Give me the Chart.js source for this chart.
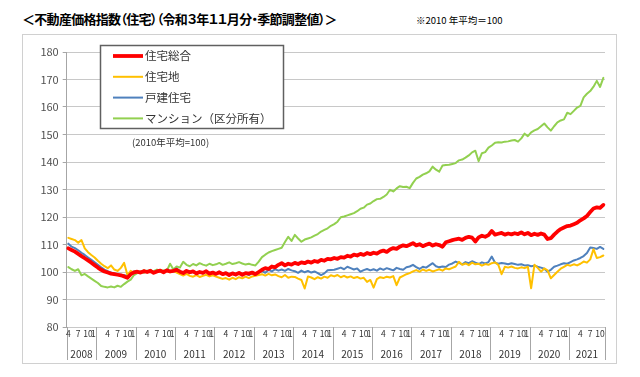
<!DOCTYPE html>
<html lang="ja">
<head>
<meta charset="utf-8">
<title>不動産価格指数（住宅）</title>
<script src="https://cdn.jsdelivr.net/npm/chart.js@4.4.1/dist/chart.umd.min.js"></script>
<style>
  html, body { margin: 0; padding: 0; background: #fff; }
  body { width: 640px; height: 377px; position: relative; overflow: hidden;
         font-family: "Noto Sans CJK JP", "Noto Sans", sans-serif; }
  #title { position: absolute; left: 22px; top: 9px; font-size: 13px; font-weight: bold; color: #000;
           font-feature-settings: "palt"; white-space: nowrap; letter-spacing: -0.7px; }
  #note { position: absolute; left: 416px; top: 13px; font-size: 9.5px; color: #000; white-space: nowrap; }
  #wrap { position: absolute; left: 0; top: 0; width: 640px; height: 377px; }
</style>
</head>
<body>
<div id="title">＜不動産価格指数（住宅）（令和３年１１月分・季節調整値）＞</div>
<div id="note">※2010 年平均＝100</div>
<div id="wrap"><canvas id="chart" width="640" height="377"></canvas></div>
<script>
// data: April 2008 – November 2021, monthly
const startYear = 2008, startMonth = 4, endYear = 2021, endMonth = 11;
const monthTicks = [1, 4, 7, 10];
const yTicks = [80, 90, 100, 110, 120, 130, 140, 150, 160, 170, 180];

const seriesNames = ['住宅総合', '住宅地', '戸建住宅', 'マンション（区分所有）'];
const seriesColors = ['#ff0000', '#ffc000', '#4f81bd', '#92d050'];
const seriesWidths = [3.8, 2, 2, 2];

const sogo = [
  108.6, 108.0, 107.4, 106.6, 105.8, 105.0, 104.2, 103.4, 102.5,
  101.6, 100.8, 100.2, 99.8, 99.4, 99.2, 99.0, 98.8, 98.4, 97.9, 99.2, 99.9,
  100.1, 99.8, 100.3, 100.0, 100.4, 99.7, 100.2, 100.5, 99.9, 100.6, 100.2, 100.4,
  100.8, 100.1, 99.6, 100.4, 99.9, 100.2, 99.5, 100.0, 99.7, 100.3, 99.4, 99.8,
  99.3, 99.9, 99.2, 99.6, 98.9, 99.5, 99.1, 99.7, 99.0, 99.6, 99.4, 99.8,
  99.2, 100.0, 100.8, 101.4, 101.1, 102.0, 101.7, 102.6, 103.2, 102.4, 103.0, 102.7,
  103.3, 102.9, 103.5, 103.2, 103.8, 103.4, 104.0, 103.7, 104.4, 104.1, 104.8, 104.6,
  105.1, 104.8, 105.4, 105.2, 105.9, 105.6, 106.3, 106.0, 106.6, 106.2, 106.9, 106.5,
  107.0, 106.7, 107.4, 107.8, 107.3, 108.2, 108.7, 108.4, 109.2, 109.7, 109.4, 109.9,
  110.5, 109.7, 110.1, 109.4, 109.9, 110.3, 109.6, 110.1, 109.8, 109.2, 110.8, 111.2,
  111.6, 111.9, 112.1, 111.7, 112.4, 112.8, 112.5, 111.1, 112.6, 113.2, 112.8, 113.4,
  114.9, 113.6, 113.9, 114.2, 113.6, 114.0, 113.7, 114.1, 113.8, 114.4, 113.7, 114.2,
  113.4, 113.9, 113.5, 114.0, 113.6, 112.0, 112.3, 113.6, 114.7, 115.6, 116.2, 116.7,
  116.9, 117.4, 117.9, 118.8, 119.5, 120.4, 121.8, 123.1, 123.5, 123.3, 124.4
];
const takuchi = [
  112.4, 112.0, 111.6, 110.6, 111.6, 108.6, 107.2, 106.2, 105.3,
  104.1, 103.0, 102.1, 101.4, 102.4, 100.9, 100.4, 101.5, 103.3, 98.9, 100.4, 99.7,
  100.3, 99.8, 100.6, 100.1, 100.7, 99.6, 100.2, 100.8, 100.1, 100.4, 99.9, 100.5,
  99.8, 99.2, 98.7, 99.3, 98.6, 98.3, 98.9, 98.2, 98.6, 99.0, 98.4, 98.8,
  98.3, 97.9, 97.5, 97.8, 97.2, 97.9, 97.4, 98.1, 97.7, 98.3, 97.8, 98.4,
  98.6, 98.9, 99.2, 98.7, 99.3, 98.8, 99.1, 98.5, 98.1, 98.9, 97.9, 98.3,
  98.2, 97.6, 97.1, 94.0, 98.4, 98.0, 97.4, 98.1, 97.6, 98.3, 97.9, 98.8,
  98.4, 98.9, 98.1, 98.6, 98.0, 98.4, 97.8, 98.2, 97.6, 97.9, 96.4, 97.1,
  94.3, 97.4, 98.1, 97.8, 98.3, 98.0, 98.5, 95.2, 98.0, 98.6, 99.2, 99.6,
  100.2, 100.7, 100.1, 100.9, 100.4, 100.8, 100.2, 100.6, 101.0, 100.5, 101.3, 101.0,
  101.5, 102.0, 103.7, 102.6, 103.1, 102.5, 103.4, 102.8, 103.0, 102.3, 102.9, 102.6,
  103.2, 103.5, 102.6, 99.2, 101.9, 101.6, 102.0, 101.5, 101.3, 101.7, 101.4, 101.9,
  94.1, 102.6, 101.5, 100.1, 101.3, 100.6, 97.7, 98.9, 100.1, 101.2, 101.9, 102.6,
  102.3, 102.8, 102.4, 103.0, 103.8, 103.4, 104.6, 108.3, 105.1, 105.4, 106.0
];
const kodate = [
  110.3, 109.2, 108.7, 107.9, 107.0, 106.2, 105.3, 104.4, 103.5,
  102.6, 101.7, 100.9, 100.3, 99.8, 99.5, 99.2, 99.0, 98.8, 98.6, 99.6, 100.2,
  100.4, 99.9, 100.6, 100.1, 100.8, 99.9, 100.3, 100.7, 100.0, 100.9, 100.2, 100.5,
  101.3, 100.0, 99.4, 100.5, 99.6, 100.1, 99.3, 100.0, 99.5, 100.2, 99.1, 99.7,
  99.4, 100.0, 99.1, 99.6, 98.9, 99.5, 98.8, 99.8, 99.0, 99.4, 98.9, 99.6,
  99.0, 99.8, 100.4, 99.7, 100.8, 100.2, 101.0, 100.5, 100.9, 100.4, 101.1, 100.6,
  100.3, 99.7, 100.5, 99.9, 100.4, 99.8, 100.2, 99.6, 98.9, 99.5, 100.6, 100.7,
  100.8, 101.2, 101.6, 101.0, 101.9, 101.4, 100.9, 101.3, 100.1, 100.7, 101.1, 100.6,
  101.0, 100.5, 101.3, 100.8, 101.4, 101.0, 100.6, 101.5, 101.1, 100.8, 101.7, 102.0,
  102.6, 101.8, 101.1, 101.9, 101.6, 102.4, 103.2, 102.1, 101.7, 102.0, 101.8, 102.7,
  103.1, 103.8, 103.3, 102.8, 103.6, 103.2, 103.9, 103.4, 102.9, 103.5, 103.1, 103.6,
  105.6, 103.4, 103.0, 103.3, 103.1, 102.8, 103.2, 102.9, 102.6, 102.8, 102.4, 102.5,
  102.1, 102.3, 101.9, 101.6, 101.2, 100.1, 100.8, 101.9, 102.3, 102.8, 103.2, 103.0,
  103.6, 104.2, 104.6, 105.1, 105.8, 106.9, 108.9, 108.7, 108.4, 109.1, 108.4
];
const mansion = [
  101.8, 101.0, 100.4, 101.0, 98.8, 99.3, 98.4, 97.6, 96.8,
  96.0, 94.9, 94.6, 94.4, 94.7, 94.4, 95.0, 94.6, 95.6, 96.5, 97.2, 98.9,
  99.6, 100.2, 99.7, 100.5, 99.9, 100.3, 100.9, 100.1, 100.6, 100.4, 103.0, 100.9,
  102.0, 101.6, 103.7, 102.6, 102.1, 102.9, 102.4, 103.2, 102.7, 102.3, 103.0, 102.5,
  102.8, 103.3, 102.6, 103.0, 103.5, 102.9, 103.2, 103.6, 103.1, 102.7, 103.0, 102.6,
  102.4, 103.8, 105.4, 106.3, 107.1, 107.6, 108.0, 108.4, 108.8, 110.9, 112.8, 111.3,
  113.5, 112.2, 111.0, 111.8, 112.2, 112.6, 113.2, 113.8, 114.7, 115.3, 115.9, 116.8,
  117.4, 118.3, 119.9, 120.2, 120.6, 121.0, 121.4, 122.1, 123.0, 123.4, 124.5, 124.9,
  125.8, 126.5, 126.6, 127.3, 128.2, 129.9, 129.3, 130.4, 131.2, 130.9, 131.0, 130.5,
  132.4, 134.0, 134.6, 135.4, 135.9, 136.6, 138.3, 137.2, 136.5, 138.7, 138.9, 139.0,
  139.3, 139.6, 140.6, 140.9, 141.6, 142.4, 143.5, 144.1, 140.3, 143.2, 143.6, 145.2,
  146.0, 147.0, 147.2, 147.1, 147.4, 147.5, 147.8, 148.0, 147.4, 148.6, 150.3, 149.4,
  150.8, 151.5, 152.0, 153.0, 154.0, 152.6, 151.4, 153.0, 154.4, 155.1, 155.5, 157.9,
  157.4, 158.6, 159.8, 160.4, 163.5, 164.8, 165.8, 167.4, 169.5, 167.3, 170.6
];

// category labels "YYYY/M"
const categories = [];
for (let y = startYear, m = startMonth; y < endYear || (y === endYear && m <= endMonth); ) {
    categories.push(y + '/' + m);
    m++;
    if (m > 12) { m = 1; y++; }
}

const values = [sogo, takuchi, kodate, mansion];
const FONT = '"Noto Sans CJK JP", "Noto Sans", sans-serif';

// frame, legend box, two-row category axis
const decorations = {
    id: 'decorations',
    beforeDraw(chart) {
        const { ctx } = chart;
        ctx.save();
        ctx.strokeStyle = '#d0d0d0';
        ctx.lineWidth = 1;
        ctx.strokeRect(22.5, 34.5, 594, 329);
        ctx.restore();
    },
    afterDraw(chart) {
        const { ctx, chartArea: a, scales: { x } } = chart;
        const slot = (a.right - a.left) / categories.length;
        ctx.save();

        // year separators and labels
        const bounds = [];
        categories.forEach((c, i) => {
            const m = +c.split('/')[1];
            if (i === 0 || m === 1) bounds.push({ i, x: x.getPixelForValue(i) - slot / 2, year: c.split('/')[0] });
        });
        ctx.strokeStyle = '#a6a6a6';
        ctx.lineWidth = 1;
        const edges = bounds.map(b => b.x).concat([a.right]);
        edges.forEach(ex => {
            const px = Math.round(ex) + 0.5;
            ctx.beginPath(); ctx.moveTo(px, a.bottom); ctx.lineTo(px, a.bottom + 33); ctx.stroke();
        });
        ctx.fillStyle = '#333';
        ctx.textBaseline = 'middle';
        ctx.font = '10px ' + FONT;
        ctx.textAlign = 'center';
        bounds.forEach((b, k) => ctx.fillText(b.year, (edges[k] + edges[k + 1]) / 2, a.bottom + 27));

        // month ticks
        ctx.font = '8.5px ' + FONT;
        categories.forEach((c, i) => {
            const m = +c.split('/')[1];
            if (!monthTicks.includes(m)) return;
            const px = x.getPixelForValue(i);
            if (m === 1) { ctx.textAlign = 'right'; ctx.fillText('1', px - slot / 2 - 0.5, a.bottom + 7); }
            else { ctx.textAlign = 'center'; ctx.fillText(String(m), px, a.bottom + 7); }
        });

        // legend
        const lx = 100, ly = 45, lw = 183, lh = 83;
        ctx.fillStyle = '#fff';
        ctx.fillRect(lx, ly, lw, lh);
        ctx.strokeStyle = '#606060';
        ctx.lineWidth = 1.5;
        ctx.strokeRect(lx + 0.5, ly + 0.5, lw, lh);
        ctx.font = '11.5px ' + FONT;
        ctx.textAlign = 'left';
        chart.data.datasets.forEach((ds, k) => {
            const yy = ly + 11 + k * 20.8;
            ctx.strokeStyle = ds.borderColor;
            ctx.lineWidth = ds.borderWidth;
            ctx.beginPath(); ctx.moveTo(lx + 13, yy); ctx.lineTo(lx + 43, yy); ctx.stroke();
            ctx.fillStyle = '#333';
            ctx.fillText(ds.label, lx + 45, yy);
        });
        ctx.font = '9.5px ' + FONT;
        ctx.fillText('(2010年平均=100)', 132, 142);
        ctx.restore();
    }
};

new Chart(document.getElementById('chart'), {
    type: 'line',
    data: {
        labels: categories,
        datasets: values.map((v, k) => ({
            label: seriesNames[k],
            data: v,
            borderColor: seriesColors[k],
            backgroundColor: seriesColors[k],
            borderWidth: seriesWidths[k],
            pointRadius: 0,
            tension: 0,
            borderJoinStyle: 'round',
            borderCapStyle: 'round'
        }))
    },
    options: {
        responsive: false,
        animation: false,
        events: [],
        layout: { padding: { left: 22, top: 52, right: 35, bottom: 50 } },
        plugins: { legend: { display: false }, tooltip: { enabled: false } },
        scales: {
            x: { type: 'category', display: false, offset: true },
            y: {
                min: yTicks[0],
                max: yTicks[yTicks.length - 1],
                afterBuildTicks(s) { s.ticks = yTicks.map(v => ({ value: v })); },
                afterFit(s) { s.width = 44.7; },
                ticks: { color: '#505050', font: { size: 11, family: FONT }, padding: 4 },
                grid: { color: '#c8c8c8', lineWidth: 1, drawTicks: true, tickLength: 4, tickColor: '#a6a6a6' },
                border: { color: '#a6a6a6' }
            }
        }
    },
    plugins: [decorations]
});
</script>
</body>
</html>
